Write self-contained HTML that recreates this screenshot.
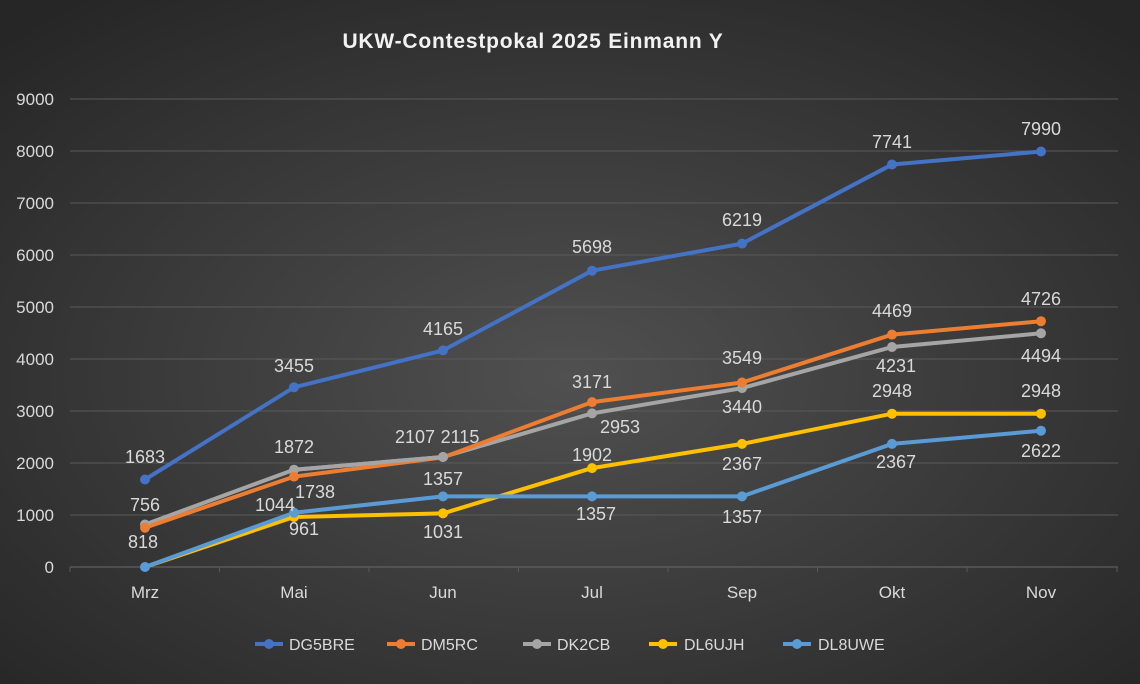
<!DOCTYPE html><html><head><style>body{margin:0}svg{display:block}</style></head><body>
<svg width="1140" height="684" xmlns="http://www.w3.org/2000/svg" font-family="Liberation Sans, sans-serif">
<defs><radialGradient id="bg" cx="0.5" cy="0.55" r="0.7"><stop offset="0" stop-color="#505050"/><stop offset="1" stop-color="#262626"/></radialGradient></defs>
<rect width="1140" height="684" fill="url(#bg)"/>
<text x="533" y="48" text-anchor="middle" font-size="21" font-weight="bold" letter-spacing="0.8" fill="#f2f2f2">UKW-Contestpokal 2025 Einmann Y</text>
<g stroke="#5a5a5a" stroke-width="1">
<line x1="70" x2="1118" y1="99" y2="99"/><line x1="70" x2="1118" y1="151" y2="151"/><line x1="70" x2="1118" y1="203" y2="203"/><line x1="70" x2="1118" y1="255" y2="255"/><line x1="70" x2="1118" y1="307" y2="307"/><line x1="70" x2="1118" y1="359" y2="359"/><line x1="70" x2="1118" y1="411" y2="411"/><line x1="70" x2="1118" y1="463" y2="463"/><line x1="70" x2="1118" y1="515" y2="515"/>
<line x1="70" x2="1118" y1="567" y2="567" stroke="#6a6a6a"/>
<line x1="70" x2="70" y1="567" y2="572"/><line x1="219.5" x2="219.5" y1="567" y2="572"/><line x1="369" x2="369" y1="567" y2="572"/><line x1="518.5" x2="518.5" y1="567" y2="572"/><line x1="668" x2="668" y1="567" y2="572"/><line x1="817.5" x2="817.5" y1="567" y2="572"/><line x1="967" x2="967" y1="567" y2="572"/><line x1="1117" x2="1117" y1="567" y2="572"/>
</g>
<g font-size="17" fill="#d9d9d9" text-anchor="end">
<text x="54" y="105">9000</text><text x="54" y="157">8000</text><text x="54" y="209">7000</text><text x="54" y="261">6000</text><text x="54" y="313">5000</text><text x="54" y="365">4000</text><text x="54" y="417">3000</text><text x="54" y="469">2000</text><text x="54" y="521">1000</text><text x="54" y="573">0</text>
</g>
<g font-size="17" fill="#d9d9d9" text-anchor="middle">
<text x="145" y="598">Mrz</text><text x="294" y="598">Mai</text><text x="443" y="598">Jun</text><text x="592" y="598">Jul</text><text x="742" y="598">Sep</text><text x="892" y="598">Okt</text><text x="1041" y="598">Nov</text>
</g>
<g fill="none" stroke-width="4" stroke-linejoin="round">
<polyline stroke="#a5a5a5" points="145,524.5 294,469.7 443,457.0 592,413.4 742,388.1 892,347 1041,333.3"/>
<polyline stroke="#ed7d31" points="145,527.7 294,476.6 443,457.4 592,402.1 742,382.5 892,334.6 1041,321.2"/>
<polyline stroke="#a5a5a5" points="294,469.7 443,457.0"/>
<polyline stroke="#ffc000" points="145,567 294,517 443,513.4 592,468.1 742,443.9 892,413.7 1041,413.7"/>
<polyline stroke="#5b9bd5" points="145,567 294,512.7 443,496.4 592,496.4 742,496.4 892,443.9 1041,430.7"/>
<polyline stroke="#4472c4" points="145,479.5 294,387.3 443,350.4 592,270.7 742,243.6 892,164.5 1041,151.5"/>
</g>
<g fill="#a5a5a5"><circle cx="145" cy="524.5" r="5"/><circle cx="294" cy="469.7" r="5"/><circle cx="443" cy="457" r="5"/><circle cx="592" cy="413.4" r="5"/><circle cx="742" cy="388.1" r="5"/><circle cx="892" cy="347" r="5"/><circle cx="1041" cy="333.3" r="5"/></g>
<g fill="#ed7d31"><circle cx="145" cy="527.7" r="5"/><circle cx="294" cy="476.6" r="5"/><circle cx="592" cy="402.1" r="5"/><circle cx="742" cy="382.5" r="5"/><circle cx="892" cy="334.6" r="5"/><circle cx="1041" cy="321.2" r="5"/></g>
<circle cx="443" cy="457" r="5" fill="#a5a5a5"/>
<g fill="#ffc000"><circle cx="294" cy="517" r="5"/><circle cx="443" cy="513.4" r="5"/><circle cx="592" cy="468.1" r="5"/><circle cx="742" cy="443.9" r="5"/><circle cx="892" cy="413.7" r="5"/><circle cx="1041" cy="413.7" r="5"/></g>
<g fill="#5b9bd5"><circle cx="145" cy="567" r="5"/><circle cx="294" cy="512.7" r="5"/><circle cx="443" cy="496.4" r="5"/><circle cx="592" cy="496.4" r="5"/><circle cx="742" cy="496.4" r="5"/><circle cx="892" cy="443.9" r="5"/><circle cx="1041" cy="430.7" r="5"/></g>
<g fill="#4472c4"><circle cx="145" cy="479.5" r="5"/><circle cx="294" cy="387.3" r="5"/><circle cx="443" cy="350.4" r="5"/><circle cx="592" cy="270.7" r="5"/><circle cx="742" cy="243.6" r="5"/><circle cx="892" cy="164.5" r="5"/><circle cx="1041" cy="151.5" r="5"/></g>
<g font-size="18" fill="#d9d9d9" text-anchor="middle">
<text x="145" y="463">1683</text><text x="145" y="511">756</text><text x="143" y="548">818</text>
<text x="294" y="372">3455</text><text x="294" y="453">1872</text><text x="315" y="498">1738</text><text x="275" y="511">1044</text><text x="304" y="535">961</text>
<text x="443" y="335">4165</text><text x="415" y="443">2107</text><text x="460" y="443">2115</text><text x="443" y="485">1357</text><text x="443" y="538">1031</text>
<text x="592" y="253">5698</text><text x="592" y="388">3171</text><text x="620" y="433">2953</text><text x="592" y="461">1902</text><text x="596" y="520">1357</text>
<text x="742" y="226">6219</text><text x="742" y="364">3549</text><text x="742" y="413">3440</text><text x="742" y="470">2367</text><text x="742" y="523">1357</text>
<text x="892" y="148">7741</text><text x="892" y="317">4469</text><text x="896" y="372">4231</text><text x="892" y="397">2948</text><text x="896" y="468">2367</text>
<text x="1041" y="135">7990</text><text x="1041" y="305">4726</text><text x="1041" y="362">4494</text><text x="1041" y="397">2948</text><text x="1041" y="457">2622</text>
</g>
<g stroke-width="4">
<line x1="255" x2="283" y1="644" y2="644" stroke="#4472c4"/><circle cx="269" cy="644" r="5" fill="#4472c4"/>
<line x1="387" x2="415" y1="644" y2="644" stroke="#ed7d31"/><circle cx="401" cy="644" r="5" fill="#ed7d31"/>
<line x1="523" x2="551" y1="644" y2="644" stroke="#a5a5a5"/><circle cx="537" cy="644" r="5" fill="#a5a5a5"/>
<line x1="649" x2="677" y1="644" y2="644" stroke="#ffc000"/><circle cx="663" cy="644" r="5" fill="#ffc000"/>
<line x1="783" x2="811" y1="644" y2="644" stroke="#5b9bd5"/><circle cx="797" cy="644" r="5" fill="#5b9bd5"/>
</g>
<g font-size="16" fill="#d9d9d9">
<text x="289" y="650">DG5BRE</text><text x="421" y="650">DM5RC</text><text x="557" y="650">DK2CB</text><text x="684" y="650">DL6UJH</text><text x="818" y="650">DL8UWE</text>
</g>
</svg>
</body></html>
